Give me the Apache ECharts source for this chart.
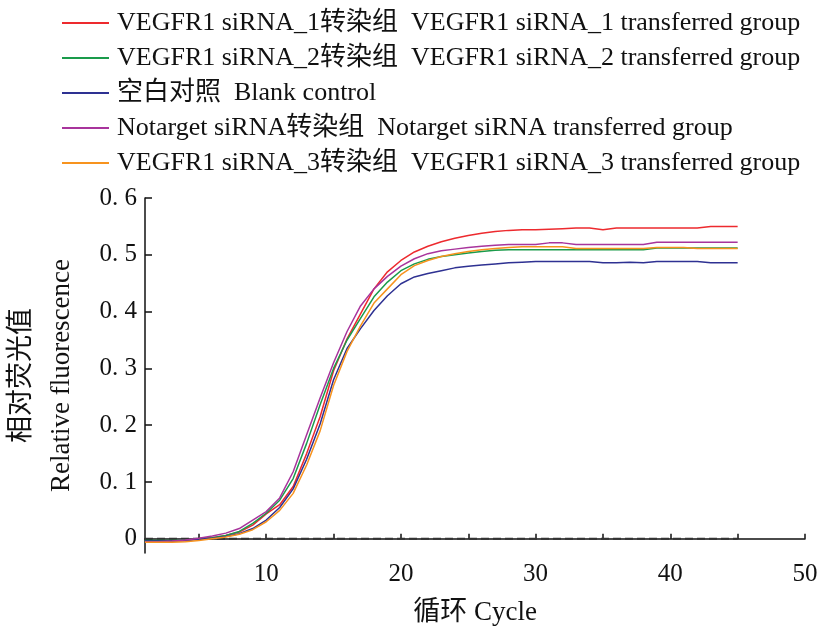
<!DOCTYPE html>
<html>
<head>
<meta charset="utf-8">
<script src="https://cdn.jsdelivr.net/npm/echarts@6/dist/echarts.min.js"></script>
<style>
  html, body { margin: 0; padding: 0; background: #fff; }
  #chart { width: 821px; height: 632px; }
</style>
</head>
<body>
<div id="chart"></div>
<script>
// cycles 1..45
var cycles = []
for (var c = 1; c <= 45; ++c) cycles.push(c)

var names = [
  'VEGFR1 siRNA_1转染组  VEGFR1 siRNA_1 transferred group',
  'VEGFR1 siRNA_2转染组  VEGFR1 siRNA_2 transferred group',
  '空白对照  Blank control',
  'Notarget siRNA转染组  Notarget siRNA transferred group',
  'VEGFR1 siRNA_3转染组  VEGFR1 siRNA_3 transferred group'
]
var colors = ['#ed2a2e', '#1a9b4b', '#2e3192', '#a8349c', '#f7931e']

var sirna1 = [-0.004, -0.004, -0.004, -0.003, 0.000, 0.002, 0.006, 0.012, 0.024, 0.044,
  0.060, 0.092, 0.150, 0.215, 0.296, 0.352, 0.396, 0.440, 0.470, 0.490,
  0.505, 0.515, 0.523, 0.529, 0.534, 0.538, 0.541, 0.543, 0.544, 0.544,
  0.545, 0.546, 0.547, 0.547, 0.544, 0.547, 0.547, 0.547, 0.547, 0.547,
  0.547, 0.547, 0.550, 0.550, 0.550]
var sirna2 = [-0.003, -0.003, -0.003, -0.002, 0.000, 0.002, 0.006, 0.013, 0.027, 0.045,
  0.068, 0.106, 0.168, 0.236, 0.300, 0.350, 0.388, 0.426, 0.452, 0.472,
  0.484, 0.492, 0.497, 0.500, 0.503, 0.506, 0.508, 0.509, 0.509, 0.509,
  0.509, 0.509, 0.509, 0.509, 0.509, 0.509, 0.509, 0.509, 0.512, 0.512,
  0.512, 0.512, 0.512, 0.512, 0.512]
var blank = [-0.004, -0.004, -0.004, -0.003, -0.001, 0.001, 0.004, 0.009, 0.018, 0.033,
  0.055, 0.088, 0.140, 0.202, 0.280, 0.335, 0.370, 0.402, 0.428, 0.449,
  0.461, 0.467, 0.472, 0.477, 0.480, 0.482, 0.484, 0.486, 0.487, 0.488,
  0.488, 0.488, 0.488, 0.488, 0.486, 0.486, 0.487, 0.486, 0.488, 0.488,
  0.488, 0.488, 0.486, 0.486, 0.486]
var notarget = [-0.005, -0.005, -0.004, -0.002, 0.001, 0.005, 0.010, 0.018, 0.033, 0.048,
  0.072, 0.118, 0.183, 0.248, 0.310, 0.365, 0.410, 0.440, 0.462, 0.480,
  0.493, 0.502, 0.507, 0.510, 0.513, 0.515, 0.517, 0.518, 0.518, 0.518,
  0.521, 0.521, 0.518, 0.518, 0.518, 0.518, 0.518, 0.518, 0.522, 0.522,
  0.522, 0.522, 0.522, 0.522, 0.522]
var sirna3 = [-0.006, -0.006, -0.006, -0.005, -0.003, 0.000, 0.003, 0.008, 0.016, 0.030,
  0.050, 0.080, 0.130, 0.190, 0.270, 0.330, 0.375, 0.415, 0.440, 0.465,
  0.481, 0.490, 0.497, 0.502, 0.506, 0.509, 0.511, 0.513, 0.514, 0.514,
  0.514, 0.514, 0.511, 0.511, 0.511, 0.511, 0.511, 0.511, 0.513, 0.513,
  0.513, 0.511, 0.511, 0.511, 0.511]

// dashed threshold line at 0, cycle 1 -> 45
var baseline_x = [1, 45]
var baseline_y = [0, 0]

var x_labels = [10, 20, 30, 40, 50]
var x_ticks = [5, 10, 15, 20, 25, 30, 35, 40, 45, 50]
var y_ticks = [0, 0.1, 0.2, 0.3, 0.4, 0.5, 0.6]

var FONT = 'Liberation Serif, Noto Sans CJK SC, serif'

function pairs(xs, ys) {
  var out = []
  for (var i = 0; i < xs.length; ++i) out.push([xs[i], ys[i]])
  return out
}

var seriesValues = [sirna1, sirna2, blank, notarget, sirna3]

var series = [{
  name: 'baseline',
  type: 'line',
  data: pairs(baseline_x, baseline_y),
  symbol: 'none',
  silent: true,
  color: '#333',
  lineStyle: { color: '#333', width: 2, type: 'dashed' },
  emphasis: { disabled: true },
  z: 1
}]
for (var i = 0; i < seriesValues.length; ++i) {
  series.push({
    name: names[i],
    type: 'line',
    data: pairs(cycles, seriesValues[i]),
    symbol: 'none',
    color: colors[i],
    lineStyle: { color: colors[i], width: 1.5 },
    z: 2
  })
}

var chart = echarts.init(document.getElementById('chart'))
chart.setOption({
  animation: false,
  backgroundColor: '#fff',
  legend: {
    data: names,
    orient: 'vertical',
    left: 57,
    top: 5,
    icon: 'rect',
    itemWidth: 47,
    itemHeight: 2,
    itemGap: 9,
    textStyle: { fontFamily: FONT, fontSize: 26, color: '#111', padding: [0, 0, 0, 3] }
  },
  grid: { left: 145, right: 16, top: 198, bottom: 79, outerBoundsMode: 'none' },
  xAxis: {
    type: 'value',
    min: 1,
    max: 50,
    name: '循环 Cycle',
    nameLocation: 'middle',
    nameGap: 46,
    nameTextStyle: { fontFamily: FONT, fontSize: 27, color: '#111' },
    axisLine: { lineStyle: { color: '#111', width: 1.5 } },
    axisTick: { inside: true, length: 5, customValues: x_ticks, lineStyle: { color: '#111', width: 1.5 } },
    axisLabel: { customValues: x_labels, margin: 9, fontFamily: FONT, fontSize: 25, color: '#111' },
    splitLine: { show: false }
  },
  yAxis: {
    type: 'value',
    min: -0.025,
    max: 0.6,
    name: '相对荧光值\nRelative fluorescence',
    nameLocation: 'middle',
    nameGap: 63,
    nameRotate: 90,
    nameTextStyle: { fontFamily: FONT, fontSize: 27, color: '#111', lineHeight: 40 },
    axisLine: { lineStyle: { color: '#111', width: 1.5 } },
    axisTick: { inside: true, length: 7, customValues: y_ticks, lineStyle: { color: '#111', width: 1.5 } },
    axisLabel: {
      customValues: y_ticks,
      margin: 8,
      fontFamily: FONT,
      fontSize: 25,
      color: '#111',
      formatter: function (v) { return v === 0 ? '0' : v.toFixed(1).replace('.', '. ') }
    },
    splitLine: { show: false }
  },
  series: series
})
</script>
</body>
</html>
